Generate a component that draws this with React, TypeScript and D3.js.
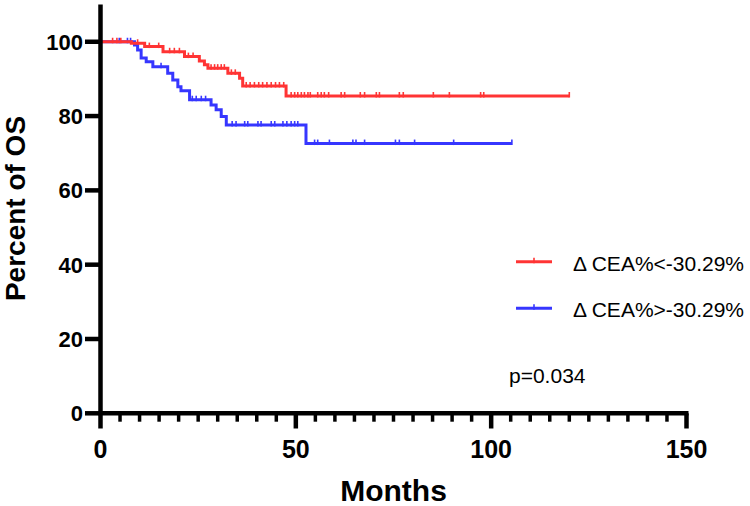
import React from "react";
import * as d3 from "d3";

// ---- data ----
const redTimes = [0, 7.9, 11.3, 16.0, 21.5, 25.3, 26.6, 27.5, 32.6, 35.6, 36.4, 47.5];
const redSurv = [100, 99.6, 98.7, 97.3, 96.0, 94.8, 93.8, 92.9, 91.5, 90.2, 88.1, 85.4];
const redEnd = 120;
const redCensor = [3.1, 4.2, 5.2, 9.5, 12.5, 14.9, 17.7, 18.9, 20.2, 22.5, 23.7, 28.3, 29.2, 30.0, 30.9, 31.7, 33.5, 34.5,
  37.3, 38.3, 39.4, 40.5, 41.5, 42.6, 43.7, 44.8, 45.8, 46.9, 48.8, 49.7, 50.5, 51.4, 52.2, 53.1, 53.7, 55.6, 56.5,
  57.3, 58.4, 61.6, 62.5, 66.5, 67.6, 70.6, 71.4, 76.5, 77.5, 85.2, 89.3, 97.3, 98.1, 120];

const blueTimes = [0, 8.7, 9.5, 10.4, 11.7, 13.4, 17.2, 18.5, 19.8, 20.6, 22.8, 28.3, 29.6, 30.9, 32.2, 52.6];
const blueSurv = [100, 99.1, 97.8, 95.6, 94.6, 93.3, 91.5, 89.7, 87.9, 86.8, 84.4, 83.0, 81.7, 79.9, 77.6, 72.6];
const blueEnd = 105.3;
const blueCensor = [4.8, 6.9, 7.7, 15.5, 23.5, 24.5, 25.8, 26.9, 33.7, 34.7, 36.9, 37.7, 40.3, 41.1, 43.7, 44.6, 46.7,
  47.7, 48.8, 49.7, 50.5, 54.8, 55.6, 58.6, 64.6, 65.4, 67.6, 75.5, 76.5, 80.4, 90.4, 105.3];

const seriesNames = ["\u0394 CEA%<-30.29%", "\u0394 CEA%>-30.29%"];
const seriesColors = ["#ff3434", "#3636ff"];
const xTicks = [0, 50, 100, 150];
const xMinorTicks = d3.range(0, 151, 5);
const yTicks = [0, 20, 40, 60, 80, 100];
const pText = "p=0.034";

const W = 750, H = 506;
const FONT = "'Liberation Sans', Arial, Helvetica, sans-serif";

export default function App() {
  const x = d3.scaleLinear().domain([0, 150]).range([100.5, 686.5]);
  const y = d3.scaleLinear().domain([0, 110]).range([413.3, 4.6]);

  const stepPath = (times: number[], surv: number[], end: number) => {
    const pts: [number, number][] = times.map((t, i) => [t, surv[i]]);
    pts.push([end, surv[surv.length - 1]]);
    return d3.line<[number, number]>().x(d => x(d[0])).y(d => y(d[1])).curve(d3.curveStepAfter)(pts) || "";
  };
  const survAt = (times: number[], surv: number[], t: number) => {
    let v = surv[0];
    for (let i = 0; i < times.length; i++) if (times[i] <= t) v = surv[i];
    return v;
  };

  const series = [
    { times: blueTimes, surv: blueSurv, end: blueEnd, censor: blueCensor, color: seriesColors[1] },
    { times: redTimes, surv: redSurv, end: redEnd, censor: redCensor, color: seriesColors[0] },
  ];

  const axisW = 4.5;
  const y0 = y(0);

  return (
    <svg width={W} height={H} style={{ position: "absolute", left: 0, top: 0, background: "#fff" }}>
      <rect width={W} height={H} fill="#fff" />
      {/* curves */}
      {series.map((s, k) => (
        <g key={k}>
          <path d={stepPath(s.times, s.surv, s.end)} fill="none" stroke={s.color} strokeWidth={3} />
          {s.censor.map((c, i) => {
            const v = survAt(s.times, s.surv, c);
            return <line key={i} x1={x(c)} x2={x(c)} y1={y(v) - 4} y2={y(v) + 1.5} stroke={s.color} strokeWidth={1.6} />;
          })}
        </g>
      ))}

      {/* y axis */}
      <line x1={x(0)} x2={x(0)} y1={y(110)} y2={y0} stroke="#000" strokeWidth={axisW} />
      {yTicks.map(t => (
        <g key={t}>
          <line x1={85} x2={x(0)} y1={y(t)} y2={y(t)} stroke="#000" strokeWidth={axisW} />
          <text x={83} y={y(t)} dy="0.36em" textAnchor="end" fontFamily={FONT} fontWeight="bold" fontSize={22}>{t}</text>
        </g>
      ))}

      {/* x axis */}
      <line x1={x(0) - 2} x2={x(150) + 2} y1={y0} y2={y0} stroke="#000" strokeWidth={axisW} />
      {xMinorTicks.filter(t => t % 50 !== 0).map(t => (
        <line key={t} x1={x(t)} x2={x(t)} y1={y0} y2={421.7} stroke="#000" strokeWidth={3.5} />
      ))}
      {xTicks.map(t => (
        <g key={t}>
          <line x1={x(t)} x2={x(t)} y1={y0} y2={428.5} stroke="#000" strokeWidth={axisW} />
          <text x={x(t)} y={458} textAnchor="middle" fontFamily={FONT} fontWeight="bold" fontSize={25}>{t}</text>
        </g>
      ))}

      {/* axis titles */}
      <text x={x(75)} y={501} textAnchor="middle" fontFamily={FONT} fontWeight="bold" fontSize={30}>Months</text>
      <text transform={`translate(25,${208.5}) rotate(-90)`} textAnchor="middle" fontFamily={FONT} fontWeight="bold" fontSize={28}>Percent of OS</text>

      {/* legend */}
      {seriesNames.map((n, i) => {
        const ly = i === 0 ? 261.7 : 308.3;
        return (
          <g key={n}>
            <line x1={516} x2={552} y1={ly} y2={ly} stroke={seriesColors[i]} strokeWidth={3} />
            <line x1={534} x2={534} y1={ly - 4} y2={ly + 1.5} stroke={seriesColors[i]} strokeWidth={1.6} />
            <text x={573} y={ly + 9} fontFamily={FONT} fontSize={21}>{n}</text>
          </g>
        );
      })}

      <text x={509} y={383} fontFamily={FONT} fontSize={21}>{pText}</text>
    </svg>
  );
}
